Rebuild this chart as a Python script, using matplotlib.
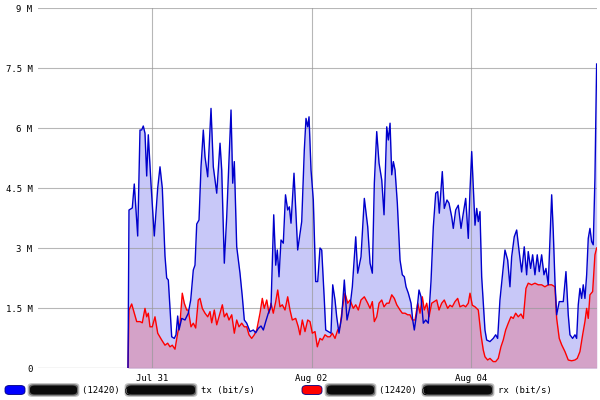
import numpy as np
import matplotlib
matplotlib.use("Agg")
import matplotlib.pyplot as plt
from matplotlib.patches import FancyBboxPatch

# time in hours since Jul 29 00:00, values in Mbit/s
tx_hours = [40.78, 41.08, 42.07, 42.67, 43.70, 44.39, 44.90, 45.38, 45.89, 46.41, 46.89, 47.70,
            48.69, 49.72, 50.41, 51.10, 51.91, 52.42, 52.91, 53.93, 54.71, 55.22, 55.73, 56.12,
            56.94, 57.93, 58.92, 59.65, 60.43, 60.94, 61.46, 62.15, 62.75, 63.44, 63.95, 64.77,
            65.76, 66.45, 67.48, 68.47, 68.98, 69.76, 70.48, 71.17, 71.78, 72.29, 72.77, 73.49,
            74.48, 75.18, 75.78, 76.50, 77.49, 78.49, 79.21, 79.99, 80.80, 81.50, 82.22, 83.00,
            83.81, 84.63, 85.23, 85.71, 86.22, 86.82, 87.51, 88.17, 88.83, 89.32, 89.83, 90.73,
            91.84, 93.05, 93.83, 94.34, 94.85, 95.25, 95.85, 96.54, 97.26, 97.86, 98.55, 99.07,
            99.85, 100.27, 101.05, 101.86, 102.38, 103.07, 103.58, 104.27, 105.08, 105.87, 106.68,
            107.58, 108.28, 109.30, 109.90, 110.89, 111.89, 112.91, 113.61, 114.30, 114.90, 115.62,
            116.32, 117.13, 117.82, 118.63, 119.12, 119.63, 120.14, 120.62, 121.13, 121.82, 122.63,
            123.32, 123.93, 124.44, 125.13, 125.94, 126.45, 126.93, 127.65, 128.34, 128.95, 129.64,
            130.36, 131.14, 131.95, 132.65, 133.37, 133.97, 134.45, 135.35, 135.95, 136.76, 137.37,
            138.18, 138.66, 139.38, 140.16, 140.98, 141.67, 142.39, 143.17, 143.69, 144.20, 144.68,
            145.19, 145.70, 146.18, 146.69, 147.20, 147.68, 148.19, 148.70, 149.69, 150.68, 151.41,
            152.01, 152.70, 153.39, 154.21, 155.02, 155.71, 156.22, 157.00, 157.73, 158.42, 159.23,
            160.01, 160.73, 161.21, 161.93, 162.53, 163.23, 163.92, 164.52, 165.24, 165.94, 166.54,
            167.23, 168.26, 168.74, 169.25, 169.76, 170.54, 171.75, 172.56, 173.25, 173.76, 174.57,
            175.27, 175.78, 176.26, 176.77, 177.28, 177.76, 178.27, 178.79, 179.27, 179.78, 180.29,
            180.77, 181.28, 181.79]
tx_values = [0.0, 3.95, 4.0, 4.6, 3.3, 5.95, 5.95, 6.05, 5.87, 4.8, 5.83, 4.6,
             3.3, 4.5, 5.03, 4.5, 2.8, 2.25, 2.2, 0.78, 0.74, 0.83, 1.3, 0.95,
             1.24, 1.2, 1.37, 1.7, 2.45, 2.57, 3.6, 3.7, 5.03, 5.95, 5.28, 4.78,
             6.49, 5.03, 4.37, 5.62, 4.95, 2.62, 3.78, 5.2, 6.45, 4.62, 5.16, 3.03,
             2.37, 1.78, 1.2, 1.12, 0.91, 0.95, 0.88, 0.99, 1.05, 0.95, 1.16, 1.37,
             1.53, 3.83, 2.57, 2.95, 2.28, 3.2, 3.12, 4.33, 3.95, 4.03, 3.62, 4.87,
             2.95, 3.66, 5.45, 6.24, 6.03, 6.28, 4.95, 4.2, 2.16, 2.16, 3.0, 2.95,
             1.7, 0.95, 0.91, 0.87, 2.08, 1.7, 1.28, 0.87, 1.28, 2.2, 1.2,
             1.53, 2.03, 3.28, 2.37, 2.78, 4.24, 3.53, 2.62, 2.37, 4.62, 5.91,
             5.12, 4.7, 3.83, 6.03, 5.7, 6.12, 4.83, 5.16, 4.95, 4.12, 2.7,
             2.33, 2.28, 2.03, 1.87, 1.62, 1.2, 0.95, 1.37, 1.95, 1.78, 1.12,
             1.2, 1.12, 2.16, 3.53, 4.37, 4.41, 3.87, 4.91, 3.99, 4.2, 4.12,
             3.78, 3.49, 3.95, 4.07, 3.49, 3.87, 4.24, 3.24, 4.45, 5.41, 4.53,
             3.57, 3.99, 3.66, 3.91, 2.28, 1.62, 0.95, 0.7, 0.66, 0.74, 0.83,
             0.74, 1.7, 2.28, 2.95, 2.7, 2.03, 2.78, 3.28, 3.45, 2.95, 2.4,
             3.03, 2.33, 2.91, 2.49, 2.83, 2.33, 2.83, 2.41, 2.83, 2.33, 2.49,
             2.08, 4.33, 3.41, 2.16, 1.33, 1.66, 1.66, 2.41, 1.33, 0.83, 0.74,
             0.83, 0.74, 1.58, 1.99, 1.74, 2.08, 1.74, 2.33, 3.24, 3.49, 3.16,
             3.08, 4.74, 7.6]

rx_hours = [40.78, 41.08, 41.89, 42.67, 43.40, 44.39, 45.08, 45.89, 46.41, 46.89, 47.40, 48.09,
            48.90, 49.72, 50.92, 51.91, 52.72, 53.42, 54.11, 54.92, 55.73, 56.42, 57.11, 57.72,
            58.44, 58.92, 59.73, 60.43, 61.15, 61.93, 62.44, 63.14, 63.95, 64.77, 65.46, 65.97,
            66.75, 67.48, 68.47, 69.17, 69.76, 70.48, 71.17, 71.99, 72.77, 73.49, 74.18, 74.99,
            75.78, 76.50, 77.19, 78.00, 78.79, 79.51, 80.50, 81.19, 81.79, 82.52, 83.21, 83.81,
            84.50, 85.23, 85.83, 86.52, 87.21, 88.02, 88.83, 89.52, 90.22, 91.24, 92.02, 92.53,
            93.23, 94.04, 94.85, 95.55, 96.24, 97.05, 97.75, 98.55, 99.25, 100.06, 100.87, 101.56,
            102.25, 103.07, 103.88, 104.57, 105.26, 106.08, 106.89, 107.58, 108.58, 109.30, 110.08,
            110.89, 111.89, 112.91, 113.61, 114.30, 114.90, 115.62, 116.32, 117.13, 117.82, 118.63,
            119.33, 120.14, 120.92, 121.65, 122.63, 123.32, 124.14, 124.95, 125.64, 126.33, 127.14,
            127.95, 128.65, 129.34, 129.94, 130.66, 131.35, 132.16, 132.94, 133.67, 134.36, 135.17,
            135.95, 136.97, 137.66, 138.35, 139.17, 139.98, 140.67, 141.67, 142.39, 143.17, 143.69,
            144.38, 145.19, 146.18, 146.99, 147.68, 148.19, 149.00, 149.69, 150.68, 151.41, 152.19,
            153.00, 153.69, 154.42, 155.20, 156.01, 156.70, 157.43, 158.21, 159.02, 159.72, 160.53,
            161.21, 162.23, 163.23, 164.22, 165.24, 166.23, 167.23, 168.26, 169.25, 169.76, 170.54,
            171.27, 172.26, 173.25, 174.27, 175.27, 175.96, 176.77, 177.58, 178.27, 178.79, 179.27,
            179.78, 180.59, 181.28, 181.79]
rx_values = [0.0, 1.45, 1.6, 1.37, 1.16, 1.16, 1.13, 1.49, 1.28, 1.37, 1.03, 1.03,
             1.28, 0.87, 0.7, 0.57, 0.62, 0.53, 0.57, 0.47, 0.87, 1.12, 1.87, 1.62,
             1.45, 1.45, 1.03, 1.12, 1.0, 1.7, 1.74, 1.49, 1.37, 1.28, 1.41, 1.13,
             1.45, 1.08, 1.37, 1.58, 1.28, 1.37, 1.2, 1.33, 0.87, 1.2, 1.03, 1.12,
             1.03, 1.03, 0.83, 0.74, 0.83, 0.95, 1.37, 1.74, 1.49, 1.7, 1.37, 1.62,
             1.37, 1.66, 1.95, 1.53, 1.58, 1.45, 1.78, 1.45, 1.2, 1.24, 1.03, 0.83,
             1.2, 0.91, 1.2, 1.16, 0.87, 0.91, 0.53, 0.74, 0.7, 0.83, 0.78, 0.78,
             0.87, 0.74, 0.95, 1.03, 1.49, 1.87, 1.62, 1.7, 1.49, 1.58, 1.45,
             1.7, 1.78, 1.62, 1.49, 1.66, 1.16, 1.28, 1.62, 1.7, 1.53, 1.62,
             1.62, 1.83, 1.74, 1.58, 1.45, 1.37, 1.37, 1.33, 1.33, 1.2, 1.2,
             1.62, 1.37, 1.78, 1.45, 1.62, 1.28, 1.62, 1.66, 1.7, 1.45, 1.62,
             1.7, 1.49, 1.57, 1.53, 1.66, 1.74, 1.53, 1.57, 1.53, 1.62, 1.87,
             1.57, 1.53, 1.45, 0.83, 0.45, 0.28, 0.2, 0.24, 0.16, 0.16, 0.24,
             0.53, 0.7, 0.95, 1.12, 1.28, 1.24, 1.37, 1.28, 1.35, 1.24, 1.99,
             2.12, 2.08, 2.12, 2.08, 2.08, 2.03, 2.08, 2.08, 2.03, 1.24, 0.74,
             0.58, 0.41, 0.2, 0.18, 0.2, 0.24, 0.41, 0.83, 1.16, 1.49, 1.24,
             1.83, 1.91, 2.83, 3.0]

y_ticks = [0, 1.5, 3, 4.5, 6, 7.5, 9]
y_tick_labels = ["0", "1.5 M", "3 M", "4.5 M", "6 M", "7.5 M", "9 M"]
x_ticks = [48, 96, 144]
x_tick_labels = ["Jul 31", "Aug 02", "Aug 04"]
legend_items = [("#0000ff", "(12420) @", "tx (bit/s)"), ("#ff0000", "(12420) @", "rx (bit/s)")]

mono = "DejaVu Sans Mono"

fig = plt.figure(figsize=(6, 4), dpi=100)
ax = fig.add_axes([38/600, 1 - 368/400, (597-38)/600, 360/400])

tx_h = np.array(tx_hours); tx_v = np.array(tx_values)
rx_h = np.array(rx_hours); rx_v = np.array(rx_values)

ax.fill_between(tx_h, 0, tx_v, color="#c8c8f8", lw=0, zorder=1)
ax.fill_between(rx_h, 0, rx_v, color="#d4a2c8", lw=0, zorder=2)
ax.plot(rx_h, rx_v, color="#ff0000", lw=1.0, zorder=4)
ax.plot(tx_h, tx_v, color="#0000cc", lw=1.0, zorder=5)

ax.set_xlim(13.7, 181.9)
ax.set_ylim(0, 9)
ax.set_yticks(y_ticks)
ax.set_yticklabels(y_tick_labels, family=mono, fontsize=6.5)
ax.set_xticks(x_ticks)
ax.set_xticklabels(x_tick_labels, family=mono, fontsize=6.5)
ax.tick_params(length=0, pad=4)
ax.grid(True, color="#999999", lw=0.8, alpha=0.7, zorder=3)
ax.set_axisbelow(False)
for s in ax.spines.values():
    s.set_visible(False)
ax.axhline(0, color="#999999", lw=0.8, zorder=3)

def blob(x0, x1, yc, h=9):
    for i, a in enumerate([0.25, 0.45, 0.9]):
        pad = (2 - i) * 1.2
        p = FancyBboxPatch(((x0 - pad)/600, 1 - (yc + h/2 + pad)/400),
                           (x1 - x0 + 2*pad)/600, (h + 2*pad)/400,
                           boxstyle="round,pad=0,rounding_size=0.008",
                           transform=fig.transFigure, fc="black", ec="none", alpha=a)
        fig.patches.append(p)

yc = 390
for (col, mid, tail), x0 in zip(legend_items, [5, 302]):
    sw = FancyBboxPatch((x0/600, 1 - (yc + 4.5)/400), 20/600, 9/400,
                        boxstyle="round,pad=0,rounding_size=0.008",
                        transform=fig.transFigure, fc=col, ec="#000080", lw=0.6)
    fig.patches.append(sw)
    blob(x0 + 25, x0 + 72, yc)
    fig.text((x0 + 77)/600, 1 - yc/400, mid, family=mono, fontsize=6.5, va="center", ha="left")
    blob(x0 + 122, x0 + 190, yc)
    fig.text((x0 + 196)/600, 1 - yc/400, tail, family=mono, fontsize=6.5, va="center", ha="left")

fig.savefig("out.png", dpi=100)
